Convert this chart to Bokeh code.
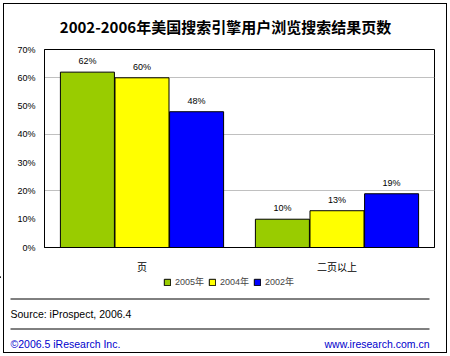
from bokeh.plotting import figure
from bokeh.layouts import column
from bokeh.models import (ColumnDataSource, Range1d, FixedTicker,
                          PrintfTickFormatter, LabelSet, Legend, LegendItem)
from bokeh.core.properties import value
from bokeh.embed import file_html
from bokeh.resources import INLINE

# ---- data ----
categories = ["页", "二页以上"]
series_names = ["2005年", "2004年", "2002年"]
v2005 = [62, 10]
v2004 = [60, 13]
v2002 = [48, 19]
y_ticks = [0, 10, 20, 30, 40, 50, 60, 70]
grid_ticks = [20, 40, 60]
title_text = "2002-2006年美国搜索引擎用户浏览搜索结果页数"
source_text = "Source:  iProspect,  2006.4"
copyright_text = "©2006.5  iResearch Inc."
site_text = "www.iresearch.com.cn"

colors = ["#99CC00", "#FFFF00", "#0000FF"]
offsets = [-0.28, 0.0, 0.28]
LAT = "Liberation Sans, Noto Sans CJK SC"
CJK = "Noto Sans CJK SC"

W = 450
H_TOP, H_MAIN, H_BOT = 41, 235, 80

ncat = len(categories)
cat_pos = [i + 0.5 for i in range(ncat)]


def no_align(f):
    try:
        f.frame_align = False
    except Exception:
        pass


def blank(h):
    f = figure(width=W, height=h, x_range=Range1d(0, W), y_range=Range1d(h, 0),
               x_axis_type=None, y_axis_type=None, output_backend="svg",
               toolbar_location=None, min_border=0)
    f.outline_line_color = None
    f.background_fill_alpha = 0
    f.border_fill_alpha = 0
    f.grid.visible = False
    no_align(f)
    return f


# ---- title strip ----
top = blank(H_TOP)
top.text(x=[225], y=[26], text=[title_text], text_align="center",
         text_baseline="middle", text_font=value(CJK), text_font_size="15px",
         text_font_style="bold", text_color="black")

# ---- main chart ----
p = figure(width=W, height=H_MAIN, x_range=Range1d(0, ncat),
           y_range=Range1d(0, 70), output_backend="svg", toolbar_location=None,
           min_border_left=44, min_border_right=16, min_border_top=8,
           min_border_bottom=25)
p.background_fill_color = "white"
p.border_fill_alpha = 0
no_align(p)
p.outline_line_color = "black"
p.outline_line_width = 1

p.yaxis.ticker = FixedTicker(ticks=y_ticks)
p.yaxis.formatter = PrintfTickFormatter(format="%d%%")
p.xaxis.ticker = FixedTicker(ticks=cat_pos)
p.xaxis.major_label_overrides = {pos: c for pos, c in zip(cat_pos, categories)}
for ax in (p.xaxis, p.yaxis):
    ax.axis_line_color = "black"
    ax.major_tick_line_color = None
    ax.minor_tick_line_color = None
    ax.major_tick_out = 0
    ax.major_tick_in = 0
p.yaxis.major_label_standoff = 9
p.yaxis.major_label_text_font = LAT
p.yaxis.major_label_text_font_size = "9px"
p.yaxis.major_label_text_color = "black"
p.xaxis.major_label_standoff = 11
p.xaxis.major_label_text_font = CJK
p.xaxis.major_label_text_font_size = "10px"
p.xaxis.major_label_text_color = "black"

p.xgrid.visible = False
p.ygrid.ticker = FixedTicker(ticks=grid_ticks)
p.ygrid.grid_line_color = "#C0C0C0"

series_vals = [v2005, v2004, v2002]
for vals, col, off in zip(series_vals, colors, offsets):
    src = ColumnDataSource(dict(x=[c + off for c in cat_pos], v=vals,
                                lbl=[f"{v}%" for v in vals]))
    p.vbar(x="x", top="v", width=0.277, source=src, fill_color=col,
           line_color="black", line_width=1)
    p.add_layout(LabelSet(x="x", y="v", text="lbl", source=src, y_offset=6,
                          text_align="center", text_baseline="bottom",
                          text_font=value(LAT), text_font_size="9px",
                          text_color="black"))

# ---- footer strip (legend, rules, source, copyright) ----
bot = blank(H_BOT)
items = []
for name, col in zip(series_names, colors):
    # legend swatch proxy, placed outside the visible range
    proxy = bot.vbar(x=[-500], top=[0], bottom=[1], width=1, fill_color=col,
                     line_color="black", line_width=1)
    items.append(LegendItem(label=name, renderers=[proxy]))
legend = Legend(items=items, orientation="horizontal", location=(163, 68),
                glyph_width=8, glyph_height=8, label_height=9,
                label_standoff=4, spacing=4, padding=0, margin=0,
                border_line_color=None, background_fill_alpha=0,
                label_text_font=LAT, label_text_font_size="9px")
bot.add_layout(legend)

bot.segment(x0=[10, 10], y0=[22.5, 52.5], x1=[429, 429], y1=[22.5, 52.5],
            line_color="black", line_width=1)
bot.text(x=[10], y=[37], text=[source_text], text_align="left",
         text_baseline="middle", text_font=value(LAT), text_font_size="10.5px",
         text_color="black")
bot.text(x=[10], y=[67], text=[copyright_text], text_align="left",
         text_baseline="middle", text_font=value(LAT), text_font_size="10.5px",
         text_color="#0000CC")
bot.text(x=[429], y=[67], text=[site_text], text_align="right",
         text_baseline="middle", text_font=value(LAT), text_font_size="10.5px",
         text_color="#0000CC")

layout = column(top, p, bot, spacing=0,
                styles={"outline": "1px solid black", "outline-offset": "-4px"})

open("out.html", "w").write(file_html(layout, INLINE))
